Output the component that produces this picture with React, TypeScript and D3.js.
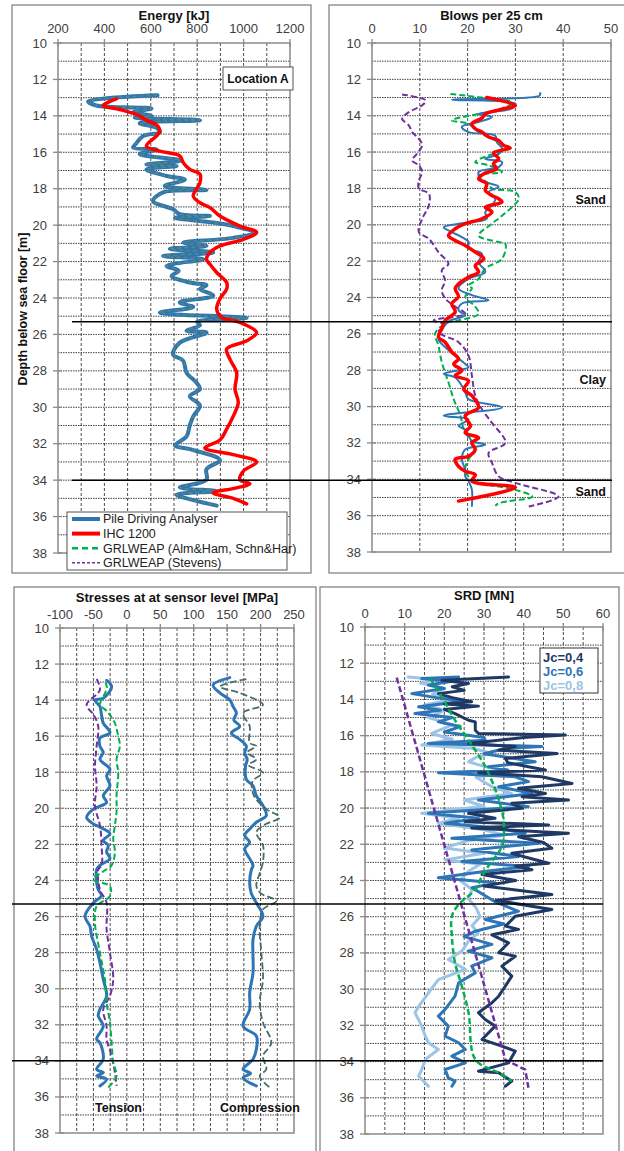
import React from 'react';
import * as d3 from 'd3';

type Pt = [number, number]; // [depth (m), value]

// ---------- Panel 1: Energy [kJ] ----------
const pdaEnergy: Pt[] = [[12.87,629],[13.2,330],[13.43,365],[13.6,603],[13.8,524],[14.0,603],[14.1,531],[14.24,812],[14.4,552],[14.66,625],[14.9,639],[15.1,567],[15.5,538],[15.75,524],[15.85,625],[16.1,552],[16.45,732],[16.67,581],[16.75,711],[16.94,581],[17.3,668],[17.5,747],[17.85,660],[18.07,840],[18.2,653],[18.68,610],[19.13,696],[19.4,725],[19.5,855],[19.6,704],[19.86,869],[20.05,955],[20.4,1042],[20.7,955],[20.96,740],[21.14,840],[21.3,682],[21.5,869],[21.7,653],[21.87,826],[22.24,668],[22.5,720],[22.8,690],[23.15,768],[23.3,840],[23.5,812],[23.87,869],[24.24,725],[24.5,783],[24.8,639],[25.1,1013],[25.3,800],[25.5,812],[25.8,754],[25.9,840],[26.45,725],[27.1,696],[27.45,740],[28.1,754],[28.65,797],[29.0,812],[29.4,768],[29.9,812],[30.5,783],[31.0,768],[31.6,754],[32.1,704],[32.3,768],[32.9,898],[33.4,840],[33.98,840],[34.4,725],[34.6,884],[34.8,711],[35.1,783],[35.4,884]];
const ihcEnergy: Pt[] = [[13.07,452],[13.43,394],[13.65,466],[14.0,552],[14.2,574],[14.5,625],[14.84,639],[15.1,625],[15.66,581],[15.94,639],[16.2,725],[16.58,740],[16.94,768],[17.2,812],[17.67,812],[18.4,783],[18.77,812],[19.04,855],[19.5,898],[20.05,984],[20.4,1056],[20.78,999],[21.14,898],[21.5,855],[21.87,840],[22.15,855],[22.6,884],[23.15,927],[23.5,927],[24.05,898],[24.6,884],[25.07,905],[25.34,984],[25.9,1056],[26.35,1013],[26.8,927],[27.36,941],[28.1,970],[29.0,963],[29.75,977],[30.5,955],[31.2,927],[31.8,898],[32.24,833],[32.6,955],[33.0,1056],[33.5,999],[33.98,984],[34.2,1027],[34.45,960],[34.7,869],[35.0,955],[35.3,1013]];
const grlEnergy: Pt[] = pdaEnergy;

// ---------- Panel 2: Blows per 25 cm ----------
const pdaBlows: Pt[] = [[12.75,35.2],[12.9,35.0],[13.12,16.7],[13.34,30],[13.6,29.3],[13.9,22.3],[14.07,25.1],[14.35,22.3],[14.6,18.8],[14.9,20.2],[15.1,25.8],[15.45,26.1],[15.8,27.2],[16.1,26.5],[16.37,23.7],[16.55,27.2],[16.83,26.5],[17.1,22.3],[17.56,23],[17.9,26.5],[18.2,24.4],[18.57,25.8],[18.93,25.1],[19.3,23.7],[19.67,24],[19.94,18.1],[20.13,15],[20.4,16.7],[20.68,18.8],[20.95,20.2],[21.3,20.2],[21.6,23],[22.05,22.3],[22.6,23.7],[22.97,20.2],[23.5,18.1],[23.87,20.9],[24.15,24.4],[24.33,18.8],[24.7,18.1],[24.98,19.5],[25.26,16.4],[25.5,15.3],[26.27,13.9],[26.73,15.3],[27.2,17.4],[27.66,19.5],[27.84,20.2],[28.2,15],[28.4,17.4],[28.86,18.8],[29.22,19.5],[29.6,20.2],[30.05,27.2],[30.5,15],[30.7,20.2],[31.07,18.1],[31.26,19.5],[31.6,20.2],[31.9,20.9],[32.1,23.7],[32.36,19.5],[32.9,18.8],[33.47,19.5],[33.84,19.5],[34.1,20.2],[34.58,20.9],[35.46,20.9]];
const ihcBlows: Pt[] = [[13.0,24],[13.43,30],[13.65,27],[13.9,23.7],[14.13,23],[14.44,20.9],[14.72,21.6],[14.9,23],[15.17,24.4],[15.36,26.5],[15.63,27.5],[15.78,28.9],[16.04,25.4],[16.37,26.5],[16.64,25.4],[16.92,26.1],[17.19,23.4],[17.47,22.3],[17.74,24],[18.1,23.7],[18.39,25.1],[18.57,26.5],[18.75,27.2],[19.03,23.7],[19.3,25.1],[19.67,23],[19.94,19.5],[20.22,17.4],[20.59,16],[20.86,17.4],[21.14,19.5],[21.5,21.6],[21.87,23.4],[22.24,21.6],[22.6,22.3],[22.88,20.2],[23.25,18.1],[23.5,17.4],[23.96,18.1],[24.33,16.7],[24.8,17.4],[25.26,15.3],[25.72,14.6],[26.18,13.9],[26.46,15.3],[27.0,16.7],[27.38,18.1],[27.66,17.1],[28.02,18.8],[28.3,17.4],[28.58,20.2],[29.04,19.2],[29.4,20.9],[30.05,22.3],[30.5,19.5],[31.07,20.6],[31.44,19.5],[31.72,22.3],[31.99,20.9],[32.36,21.6],[32.73,20.2],[32.9,17.4],[33.29,18.1],[33.56,19.5],[33.75,21.6],[34.1,20.9],[34.45,30],[35.2,18.1]];
const grlBlows: Pt[] = [[12.8,16.4],[13.03,23.7],[13.28,29.3],[13.6,27.2],[14.26,16.7],[14.44,20.2],[14.9,22.3],[15.45,26.5],[15.8,28.6],[16.18,24.4],[16.55,21.6],[16.73,24.4],[17.1,27.2],[17.28,22.3],[17.74,24.4],[18.0,25.1],[18.2,30],[18.57,30.7],[19.5,27.2],[19.94,25.1],[20.59,22.3],[20.95,26.5],[21.05,27.9],[21.87,27.2],[22.4,23.7],[22.97,22.3],[23.34,20.2],[23.5,20.9],[23.96,19.5],[24.5,21.6],[24.9,22.3],[25.26,18.1],[25.44,15.3],[26.0,13.2],[26.64,13.9],[27.56,14.6],[28.67,16],[29.6,17.1],[30.5,18.5],[31.26,19.2],[31.99,20.9],[32.36,21.6],[32.9,20.2],[33.47,19.5],[34.02,20.9],[34.58,30],[34.95,33.5],[35.32,26.5],[35.46,25.8]];
const stevensBlows: Pt[] = [[12.83,6.3],[13.16,11.2],[13.43,10.5],[13.8,7.7],[14.17,6.3],[14.53,7.7],[14.9,8.4],[15.27,9.8],[15.63,10.5],[16.09,9.4],[16.46,8.4],[16.73,9.8],[17.1,10.5],[17.56,9.8],[18.0,9.8],[18.29,11.9],[18.93,11.9],[19.67,10.5],[20.4,9.8],[20.77,11.9],[21.5,13.9],[22.15,16],[22.5,14.6],[23.06,15.3],[23.6,14.6],[24.05,15.3],[24.5,17.4],[24.9,19.5],[25.26,12.9],[25.5,15.3],[25.9,13.9],[26.46,18.1],[27.2,20.2],[28.3,20.9],[29.4,21.6],[30.15,23],[30.9,25.1],[31.99,27.9],[32.55,24.4],[33.1,25.1],[33.84,26.5],[34.2,30],[34.95,39],[35.5,32.8]];

// ---------- Panel 3: Stresses [MPa] ----------
const pdaTension: Pt[] = [[12.9,-30],[13.25,-22.8],[13.9,-35.3],[14.0,-47.7],[14.35,-40.3],[14.8,-38],[15.27,-35.3],[15.8,-25.3],[16.1,-40.3],[16.55,-40.3],[16.9,-35.3],[17.28,-40.3],[17.83,-25.3],[18.2,-30.3],[18.75,-25.3],[19.3,-35.3],[19.67,-30.3],[20.04,-50.2],[20.5,-60.2],[20.86,-50.2],[21.04,-40.3],[21.4,-25.3],[21.78,-35.3],[22.05,-27.8],[22.42,-30.3],[22.79,-25.3],[23.16,-40.3],[23.4,-45.2],[24.13,-45.2],[24.5,-42.8],[24.85,-38],[25.24,-50.2],[25.98,-62.7],[26.53,-55.2],[27.08,-52.7],[27.82,-45.2],[28.56,-40.3],[29.48,-35.3],[30.4,-30.3],[31.14,-40.3],[31.5,-42.8],[32.07,-35.3],[32.8,-45.2],[32.99,-40.3],[33.9,-35.3],[34.47,-45.2],[34.65,-35],[34.84,-45.2],[35.02,-30.3],[35.39,-40.3]];
const grlTension: Pt[] = [[13.0,-32],[13.3,-30],[13.8,-35],[14.2,-40],[14.7,-27.8],[15.27,-17.9],[16.0,-12.9],[16.55,-10.4],[17.28,-15.4],[18.0,-12.9],[19.3,-15.4],[20.2,-15.4],[20.95,-17.9],[21.69,-20.4],[22.42,-17.9],[23.16,-22.8],[23.5,-35.3],[23.94,-50.2],[24.31,-25.3],[24.87,-25.3],[25.42,-45.2],[26.34,-47.7],[28.0,-40.3],[29.48,-32.8],[30.77,-30.3],[31.88,-25.3],[33.0,-22.8],[34.1,-20.4],[34.84,-15.4],[35.48,-27.8]];
const stevensTension: Pt[] = [[12.83,-45.2],[13.43,-40.3],[14.26,-60.2],[14.8,-50],[15.45,-42.8],[16.55,-45.2],[17.65,-47.7],[18.75,-45.2],[19.85,-47.7],[20.95,-40.3],[22.05,-37.8],[23.16,-37.8],[23.4,-42.8],[24.5,-40.3],[25.24,-30.3],[26.71,-30.3],[28.0,-25.3],[29.48,-20.4],[30.4,-25.3],[31.14,-35.3],[32.07,-30.3],[32.8,-30.3],[33.73,-22.8],[34.65,-17.9],[35.39,-15.4]];
const pdaCompression: Pt[] = [[12.75,153.9],[13.16,129],[13.6,139],[13.98,153.9],[14.35,158.8],[14.72,163.8],[15.1,160],[15.45,168.8],[15.82,156.4],[16.18,168.8],[16.55,178.7],[16.92,176.3],[17.3,180],[17.65,177.5],[18.39,178.7],[18.75,188.7],[19.3,193.7],[19.85,203.6],[20.4,208.6],[20.77,193.7],[21.1,185],[21.5,176.3],[21.87,183.7],[22.24,176.3],[22.79,183.7],[23.16,188.7],[23.4,186.2],[24.13,183.7],[24.7,186],[25.24,193.7],[25.98,203.6],[26.53,193.7],[27.27,188.7],[28.19,188.7],[29.11,188.7],[30.22,183.7],[31.14,183.7],[32.07,173.8],[32.62,193.7],[33.36,193.7],[33.91,188.7],[34.47,173.8],[34.7,185],[34.93,173.8],[35.39,193.7]];
const grlCompression: Pt[] = [[12.83,178.7],[13.25,139],[13.6,168.8],[14.26,203.6],[14.72,173.8],[15.45,183.7],[16.37,183.7],[16.55,193.7],[16.9,180],[17.28,193.7],[17.6,182],[18.02,203.6],[18.5,188],[19.3,190],[20.04,208.6],[20.5,228.6],[20.86,208.6],[21.32,193.7],[22.05,203.6],[22.97,203.6],[23.6,198.7],[24.3,193.7],[24.7,200],[25.14,223.5],[25.6,203.6],[26.53,198.7],[28.0,201.1],[29.48,203.6],[30.77,198.7],[31.88,203.6],[33.0,216.1],[33.73,203.6],[34.47,208.6],[34.84,198.7],[35.48,213.6]];

// ---------- Panel 4: SRD [MN] ----------
const stevensSrd: Pt[] = [[12.8,8],[33.9,35.4],[34.45,40.4],[35.45,41.2]];
const grlSrd: Pt[] = [[12.85,16.4],[13.86,19.4],[15.15,22.7],[16.25,26.1],[17.7,30.3],[19.2,33.2],[20.66,34.9],[22.1,34.5],[23.2,31.1],[23.76,29.5],[24.5,27.8],[25.33,23.6],[25.97,21.9],[27.07,21.9],[28.55,22.7],[29.83,24.4],[31.3,26.1],[33.88,27.8],[34.62,33.7],[35.08,37]];
const jc04: Pt[] = [[12.76,36.2],[12.94,19.4],[13.12,26.1],[13.3,22],[13.5,25],[13.68,18.5],[13.9,22],[14.13,26.9],[14.25,20],[14.37,28.6],[14.55,20],[14.78,22.7],[15.15,26.1],[15.24,27.8],[15.7,27.8],[15.88,28.6],[15.97,50.5],[16.1,40],[16.43,26.1],[16.6,37.9],[16.8,33.7],[16.98,48.4],[17.26,35.4],[17.5,36],[17.72,41.2],[17.9,45.5],[18.05,28.6],[18.27,44.6],[18.64,52.2],[18.91,38.7],[19.19,45.5],[19.37,39.6],[19.56,51.3],[19.74,37],[20.01,39.6],[20.29,26.1],[20.56,32.8],[20.75,25.3],[20.93,46.3],[21.1,26.9],[21.39,51.3],[21.58,38.7],[21.9,45],[22.22,47.1],[22.5,37],[22.8,42],[23.05,46.3],[23.2,38],[23.4,42.1],[23.67,29.5],[24.0,38],[24.3,30],[24.77,47.1],[25.1,33],[25.6,47.1],[25.97,37.9],[26.52,35.4],[26.7,38.7],[27.0,32],[27.44,36.2],[27.99,33.7],[28.18,37.9],[28.73,34.5],[29.28,37],[29.83,35.4],[30.39,33.7],[30.75,32],[31.3,28.6],[31.68,30.3],[32.04,32.8],[32.78,29.5],[33.15,34.5],[33.42,37.9],[34.07,36.2],[34.53,28.6],[34.62,33.7],[35.08,37],[35.36,35.4]];
const jc06: Pt[] = [[12.76,23.6],[12.85,14.3],[13.0,22],[13.2,16],[13.4,20],[13.68,11.8],[13.9,18],[14.1,25],[14.41,13.5],[14.6,19],[14.78,12.6],[15.0,22],[15.24,18.5],[15.5,24],[15.8,20],[16.1,30],[16.25,30.3],[16.43,16],[16.6,44.6],[16.71,35.4],[17.0,30],[17.44,42.9],[17.72,31.1],[17.9,36],[18.05,18.5],[18.27,37.9],[18.54,41.2],[18.82,33.7],[19.19,42.1],[19.56,28.6],[19.92,41.2],[20.29,16],[20.56,28.6],[20.84,20.2],[21.1,33],[21.39,40.4],[21.67,21.9],[21.94,43.8],[22.31,26.9],[22.68,38.7],[22.95,24.4],[23.23,41.2],[23.5,30],[23.85,18.5],[24.13,32.8],[24.4,27],[24.8,30],[25.2,33],[25.7,38.7],[26.15,30.3],[26.4,35],[26.8,27.8],[27.1,25],[27.53,32],[27.9,26],[28.27,32],[28.73,26.9],[29.1,27.8],[29.65,23.6],[30.39,22.7],[31.12,20.2],[31.49,18.5],[32.04,21],[32.6,20.2],[32.96,23.6],[33.33,25.3],[33.7,21.9],[34.07,25.3],[34.44,20.2],[34.9,21],[35.08,22.7],[35.36,21.9]];
const jc08: Pt[] = [[12.76,10.9],[12.9,18],[13.1,14],[13.4,20],[13.7,17],[14.0,22],[14.3,15],[14.6,20],[15.0,16],[15.4,22],[15.88,16.8],[16.2,22],[16.52,14.3],[16.7,27],[16.98,32],[17.2,28],[17.44,26.1],[17.7,30],[17.99,37],[18.3,28],[18.82,32],[19.2,37],[19.56,25],[19.9,30],[20.29,14.3],[20.56,23.6],[20.84,18.5],[21.2,30],[21.5,35],[21.8,26],[22.2,20],[22.5,30],[22.86,20.2],[23.1,29],[23.5,26],[24.0,24],[24.5,27],[25.0,26],[25.5,28],[26.0,29],[26.5,27],[26.9,28.5],[27.35,26.1],[27.9,24.4],[28.36,21],[28.9,25.3],[29.47,18.5],[30.2,16],[30.97,13.5],[31.3,12.6],[32.04,14.3],[32.6,15.2],[32.96,16],[33.33,18.5],[33.88,15.2],[34.44,14.3],[34.8,13.5],[35.36,16]];

// ---------- shared ----------
const depthTicks = d3.range(10, 39, 2);
const depthGrid = d3.range(11, 38, 1);
const layerBoundaries = [25.3, 34.0];
const legendLabels = ['Pile Driving Analyser', 'IHC 1200', 'GRLWEAP (Alm&Ham, Schn&Har)', 'GRLWEAP (Stevens)'];
const jcLabels = ['Jc=0,4', 'Jc=0,6', 'Jc=0,8'];

const C = {
  blue: '#2E75B6', red: '#FF0000', green: '#00B050', purple: '#7030A0',
  jc04: '#1F3864', jc06: '#2E75B6', jc08: '#9DC3E6', slate: '#4A6B6E',
};
const FONT = '"Liberation Sans", Arial, Helvetica, sans-serif';

interface Series { data: Pt[]; color: string; width: number; dash?: string; smooth?: boolean; }
interface PanelProps {
  frame: [number, number, number, number];
  plot: [number, number, number, number]; // x0,x1,y0,y1
  domain: [number, number];
  ticks: number[];
  grid: number[];
  title: string;
  titleY: number;
  labelY: number;
  series: Series[];
  children?: (x: d3.ScaleLinear<number, number>, y: d3.ScaleLinear<number, number>) => React.ReactNode;
}

function Panel(p: PanelProps) {
  const [x0, x1, y0, y1] = p.plot;
  const x = d3.scaleLinear().domain(p.domain).range([x0, x1]);
  const y = d3.scaleLinear().domain([10, 38]).range([y0, y1]);
  const frameCol = '#8a8a8a';
  return (
    <g>
      <rect x={p.frame[0]} y={p.frame[1]} width={p.frame[2]} height={p.frame[3]} fill="#fff" stroke="#7a7a7a" strokeWidth={1.2} />
      {depthGrid.map(d => (
        <line key={'h' + d} x1={x0} x2={x1} y1={y(d)} y2={y(d)} stroke="#222" strokeWidth={1} strokeDasharray="1.5,1" opacity={0.85} />
      ))}
      {p.grid.filter(v => v > p.domain[0] && v < p.domain[1]).map(v => (
        <line key={'v' + v} x1={x(v)} x2={x(v)} y1={y0} y2={y1} stroke="#222" strokeWidth={1} strokeDasharray="3,2" opacity={0.8} />
      ))}
      <rect x={x0} y={y0} width={x1 - x0} height={y1 - y0} fill="none" stroke={frameCol} strokeWidth={1.5} />
      {depthTicks.map(d => (
        <g key={'yt' + d}>
          <line x1={x0 - 5} x2={x0 + 4} y1={y(d)} y2={y(d)} stroke={frameCol} strokeWidth={1.3} />
          <text x={x0 - 11} y={y(d)} dy="0.35em" textAnchor="end" fontSize={13} fill="#404040" fontFamily={FONT}>{d}</text>
        </g>
      ))}
      {p.ticks.map(v => (
        <g key={'xt' + v}>
          <line x1={x(v)} x2={x(v)} y1={y0 - 4} y2={y0 + 4} stroke={frameCol} strokeWidth={1.3} />
          <text x={x(v)} y={p.labelY} textAnchor="middle" fontSize={13} fill="#404040" fontFamily={FONT}>{v}</text>
        </g>
      ))}
      <text x={(x0 + x1) / 2} y={p.titleY} textAnchor="middle" fontSize={13} fontWeight="bold" fill="#111" fontFamily={FONT}>{p.title}</text>
      {p.series.map((s, i) => {
        const gen = d3.line<Pt>().x(d => x(d[1])).y(d => y(d[0]))
          .curve(s.smooth === false ? d3.curveLinear : d3.curveCatmullRom.alpha(0.5));
        return <path key={'s' + i} d={gen(s.data) || ''} fill="none" stroke={s.color} strokeWidth={s.width}
          strokeDasharray={s.dash} strokeLinejoin="round" strokeLinecap={s.dash ? 'butt' : 'round'} />;
      })}
      {p.children ? p.children(x, y) : null}
    </g>
  );
}

export default function App() {
  const yTop = d3.scaleLinear().domain([10, 38]).range([43, 553]);
  const yBot = d3.scaleLinear().domain([10, 38]).range([628, 1133]);
  const legendColors = [C.blue, C.red, C.green, C.purple];
  const legendW = [4, 4, 2.5, 1.5];
  const legendDash = [undefined, undefined, '6,4', '3,2'];
  const jcColors = [C.jc04, C.jc06, C.jc08];

  return (
    <svg width={624} height={1151} style={{ position: 'absolute', left: 0, top: 0, background: '#fff' }} fontFamily={FONT}>
      <rect x={0} y={0} width={624} height={1151} fill="#fff" />
      {/* Panel 1 */}
      <Panel frame={[12, 5, 299, 568]} plot={[58, 290, 43, 553]} domain={[200, 1200]}
        ticks={d3.range(200, 1201, 200)} grid={d3.range(200, 1201, 100)} title="Energy [kJ]" titleY={20} labelY={33}
        series={[
          { data: pdaEnergy, color: C.blue, width: 4 },
          { data: grlEnergy, color: '#5C8C6A', width: 1.3, dash: '4,3' },
          { data: ihcEnergy, color: C.red, width: 3.5 },
        ]}>
        {() => (
          <g>
            <rect x={223} y={67} width={70} height={23} fill="#fff" stroke="#555" strokeWidth={1} />
            <text x={258} y={83} textAnchor="middle" fontSize={12} fontWeight="bold" fill="#111">Location A</text>
            <rect x={67} y={512} width={220} height={58} fill="#fff" stroke="#555" strokeWidth={1} />
            {legendLabels.map((l, i) => (
              <g key={l}>
                <line x1={72} x2={100} y1={519 + i * 14.6} y2={519 + i * 14.6} stroke={legendColors[i]} strokeWidth={legendW[i]} strokeDasharray={legendDash[i]} />
                <text x={103} y={519 + i * 14.6} dy="0.35em" fontSize={12.5} fill="#222">{l}</text>
              </g>
            ))}
          </g>
        )}
      </Panel>
      {/* Panel 2 */}
      <Panel frame={[329, 5, 300, 568]} plot={[372, 611, 43, 552]} domain={[0, 50]}
        ticks={d3.range(0, 51, 10)} grid={d3.range(0, 51, 10)} title="Blows per 25 cm" titleY={20} labelY={33}
        series={[
          { data: stevensBlows, color: C.purple, width: 2, dash: '6,3' },
          { data: grlBlows, color: C.green, width: 2, dash: '6,3' },
          { data: pdaBlows, color: C.blue, width: 2 },
          { data: ihcBlows, color: C.red, width: 3.5 },
        ]}>
        {(x, y) => (
          <g fontSize={12.5} fontWeight="bold" fill="#111" textAnchor="end">
            <text x={606} y={y(18.6)} dy="0.35em">Sand</text>
            <text x={606} y={y(28.5)} dy="0.35em">Clay</text>
            <text x={606} y={y(34.66)} dy="0.35em">Sand</text>
          </g>
        )}
      </Panel>
      {/* Panel 3 */}
      <Panel frame={[14, 587, 302, 570]} plot={[60, 294, 628, 1133]} domain={[-100, 250]}
        ticks={d3.range(-100, 251, 50)} grid={d3.range(-100, 251, 25)} title="Stresses at at sensor level [MPa]" titleY={602} labelY={619}
        series={[
          { data: pdaTension, color: C.blue, width: 3 },
          { data: stevensTension, color: C.purple, width: 2, dash: '6,3' },
          { data: grlTension, color: C.green, width: 2, dash: '6,3' },
          { data: pdaCompression, color: C.blue, width: 3 },
          { data: grlCompression, color: C.slate, width: 1.8, dash: '7,3' },
        ]}>
        {(x, y) => (
          <g fontSize={12.5} fontWeight="bold" fill="#111">
            <text x={95} y={y(36.6)} dy="0.35em">Tension</text>
            <text x={220} y={y(36.6)} dy="0.35em">Compression</text>
          </g>
        )}
      </Panel>
      {/* Panel 4 */}
      <Panel frame={[320, 587, 299, 570]} plot={[365, 603, 627, 1134]} domain={[0, 60]}
        ticks={d3.range(0, 61, 10)} grid={d3.range(0, 61, 5)} title="SRD [MN]" titleY={600} labelY={618}
        series={[
          { data: jc08, color: C.jc08, width: 3, smooth: false },
          { data: jc06, color: C.jc06, width: 3, smooth: false },
          { data: jc04, color: C.jc04, width: 3, smooth: false },
          { data: grlSrd, color: C.green, width: 2.5, dash: '6,3' },
          { data: stevensSrd, color: C.purple, width: 2.5, dash: '6,3', smooth: false },
        ]}>
        {() => (
          <g>
            <rect x={540} y={648} width={58} height={45} fill="#fff" stroke="#333" strokeWidth={1} />
            {jcLabels.map((l, i) => (
              <text key={l} x={543} y={657 + i * 14} dy="0.35em" fontSize={13} fontWeight="bold" fill={jcColors[i]}>{l}</text>
            ))}
          </g>
        )}
      </Panel>
      {/* Depth label */}
      <text transform={`translate(27,309) rotate(-90)`} textAnchor="middle" fontSize={12.5} fontWeight="bold" fill="#111">Depth below sea floor [m]</text>
      {/* Layer boundaries */}
      {layerBoundaries.map(d => (
        <g key={'lb' + d}>
          <line x1={72} x2={612} y1={yTop(d)} y2={yTop(d)} stroke="#000" strokeWidth={1.5} />
          <line x1={12} x2={603} y1={yBot(d)} y2={yBot(d)} stroke="#000" strokeWidth={1.5} />
        </g>
      ))}
    </svg>
  );
}
